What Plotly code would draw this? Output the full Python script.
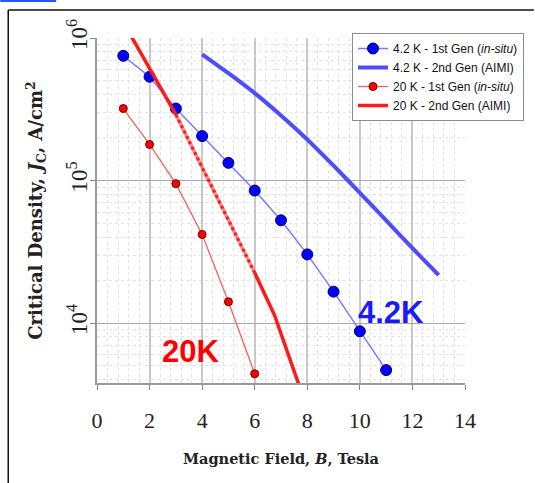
import numpy as np
import plotly.graph_objects as go

# ---------------- data ----------------
field_1st_42 = [1, 2, 3, 4, 5, 6, 7, 8, 9, 10, 11]
jc_1st_42 = [7.5e5, 5.35e5, 3.2e5, 2.05e5, 1.33e5, 8.5e4, 5.26e4, 3.03e4, 1.66e4, 8.75e3, 4.67e3]

field_2nd_42 = [4, 5, 6, 7, 8, 9, 10, 11, 12, 13]
jc_2nd_42 = [7.69e5, 5.66e5, 4.1e5, 2.86e5, 1.94e5, 1.27e5, 8.2e4, 5.25e4, 3.35e4, 2.17e4]

field_1st_20 = [1, 2, 3, 4, 5, 6]
jc_1st_20 = [3.2e5, 1.79e5, 9.5e4, 4.18e4, 1.41e4, 4.4e3]

field_2nd_20 = [1, 2, 3, 4, 5, 6, 6.75, 7.7]
jc_2nd_20 = [1.29e6, 6.2e5, 2.9e5, 1.23e5, 5.2e4, 2.25e4, 1.14e4, 3.6e3]

x_ticks = [0, 2, 4, 6, 8, 10, 12, 14]
y_ticks = [1e4, 1e5, 1e6]
y_ticktext = ["10<sup>4</sup>", "10<sup>5</sup>", "10<sup>6</sup>"]

legend_names = [
    "4.2 K - 1st Gen (<i>in-situ</i>)",
    "4.2 K - 2nd Gen (AIMI)",
    "20 K - 1st Gen (<i>in-situ</i>)",
    "20 K - 2nd Gen (AIMI)",
]

# ---------------- layout geometry ----------------
W, H = 535, 483
ML, MR, MT, MB = 97, 69, 38, 100
PW, PH = W - ML - MR, H - MT - MB


def px(x):
    return (x - ML) / PW


def py(y):
    return 1 - (y - MT) / PH


fig = go.Figure()

fig.add_trace(go.Scatter(
    x=field_1st_42, y=jc_1st_42, mode="lines+markers", name=legend_names[0],
    line=dict(color="#7a7aff", width=1.5),
    marker=dict(color="#0000ff", size=11, line=dict(color="#000066", width=1)),
))
fig.add_trace(go.Scatter(
    x=field_2nd_42, y=jc_2nd_42, mode="lines", name=legend_names[1],
    line=dict(color="#4d4dff", width=4, shape="spline", smoothing=0.8),
))
fig.add_trace(go.Scatter(
    x=field_1st_20, y=jc_1st_20, mode="lines+markers", name=legend_names[2],
    line=dict(color="#ff5c5c", width=1.3),
    marker=dict(color="#ff0000", size=8, line=dict(color="#660000", width=1)),
))

# 20 K 2nd gen: solid / dotted / solid segments
x2 = np.array(field_2nd_20, dtype=float)
y2 = np.array(jc_2nd_20, dtype=float)
seg_a = x2 <= 3
seg_b = (x2 >= 3) & (x2 <= 6)
seg_c = x2 >= 6
fig.add_trace(go.Scatter(
    x=x2[seg_a], y=y2[seg_a], mode="lines", name=legend_names[3],
    line=dict(color="#ff1a1a", width=3.5),
))
fig.add_trace(go.Scatter(
    x=x2[seg_b], y=y2[seg_b], mode="lines", showlegend=False,
    line=dict(color="rgba(255,60,60,0.6)", width=3.5),
))
fig.add_trace(go.Scatter(
    x=x2[seg_b], y=y2[seg_b], mode="lines", showlegend=False,
    line=dict(color="#ff1a1a", width=3, dash="dot"),
))
fig.add_trace(go.Scatter(
    x=x2[seg_c], y=y2[seg_c], mode="lines", showlegend=False,
    line=dict(color="#ff1a1a", width=3.5),
))

serif = "Liberation Serif"
bold_serif = "DejaVu Serif"

fig.update_layout(
    width=W, height=H,
    margin=dict(l=ML, r=MR, t=MT, b=MB, pad=0),
    paper_bgcolor="white", plot_bgcolor="white",
    showlegend=True,
    legend=dict(
        x=px(352), y=py(33), xanchor="left", yanchor="top",
        bgcolor="white", bordercolor="#8c8c8c", borderwidth=1,
        font=dict(family="Liberation Sans", size=12, color="#111"),
        tracegroupgap=0, itemwidth=30,
    ),
    xaxis=dict(
        range=[0, 14], tickvals=x_ticks, ticks="outside", ticklen=5,
        tickcolor="#888", showline=True, linecolor="#999", linewidth=1.5,
        showgrid=True, gridcolor="#c8c8c8", gridwidth=1.5, zeroline=False,
        tickfont=dict(family=serif, size=22, color="#222"),
        ticklabelstandoff=12,
        minor=dict(dtick=0.4, showgrid=True, gridcolor="#e2e2e2", griddash="dot", gridwidth=1),
        title=dict(text="Magnetic Field, <i>B</i>, Tesla",
                   font=dict(family=bold_serif, size=14.5, color="#222", weight="bold"),
                   standoff=22),
    ),
    yaxis=dict(
        type="log", range=[6 - PH / 142.5, 6], tickvals=y_ticks, ticktext=y_ticktext,
        tickangle=-90, ticks="outside", ticklen=5, tickcolor="#888",
        showline=True, linecolor="#999", linewidth=1.5,
        showgrid=True, gridcolor="#a8a8a8", gridwidth=1, zeroline=False,
        tickfont=dict(family=serif, size=23, color="#222"),
        ticklabelstandoff=-6,
        minor=dict(dtick="D1", showgrid=True, gridcolor="#e2e2e2", griddash="dot", gridwidth=1),
        title=dict(text="Critical Density, <i>J</i><sub>C</sub>, A/cm<sup>2</sup>",
                   font=dict(family=bold_serif, size=18, color="#222", weight="bold"),
                   standoff=16),
    ),
    annotations=[
        dict(x=3.54, y=3.80, xref="x", yref="y", text="<b>20K</b>", showarrow=False,
             font=dict(family="Liberation Sans", size=31, color="#ff0000")),
        dict(x=11.19, y=4.074, xref="x", yref="y", text="<b>4.2K</b>", showarrow=False,
             font=dict(family="Liberation Sans", size=31, color="#1a1aff")),
    ],
    shapes=[
        dict(type="line", xref="paper", yref="paper", x0=px(8), x1=px(535), y0=py(10), y1=py(10),
             line=dict(color="#111", width=1.5)),
        dict(type="line", xref="paper", yref="paper", x0=px(8), x1=px(8), y0=py(10), y1=py(483),
             line=dict(color="#111", width=1.5)),
        dict(type="line", xref="paper", yref="paper", x0=px(0), x1=px(56), y0=py(1), y1=py(1),
             line=dict(color="#2255ff", width=2)),
    ],
)

fig.write_html("out.html")
